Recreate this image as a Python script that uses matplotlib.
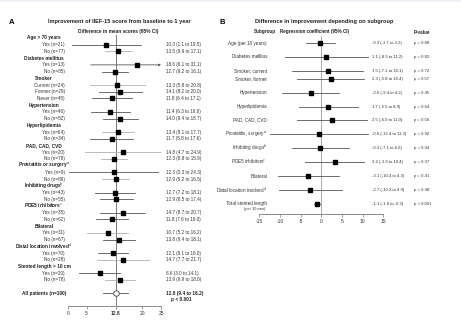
import matplotlib
matplotlib.use('Agg')
import matplotlib.pyplot as plt
from matplotlib.transforms import blended_transform_factory
from matplotlib.patches import Rectangle

plt.rcParams['font.family'] = ['Liberation Sans Narrow', 'Liberation Sans', 'DejaVu Sans']
plt.rcParams['axes.unicode_minus'] = False

# ---- panel A data ----
a_headers = ['Age > 70 years', 'Diabetes mellitus', 'Smoker', 'Hypertension', 'Hyperlipidemia',
             'PAD, CAD, CVD', 'Prostatitis or surgery$^{a}$', 'Inhibiting drugs$^{b}$',
             'PDE5 inhibitors$^{c}$', 'Bilateral', 'Distal location involved$^{d}$',
             'Stented length > 10 cm']
a_levels = [['Yes', 'No'], ['Yes', 'No'], ['Current', 'Former', 'Never'], ['Yes', 'No'],
            ['Yes', 'No'], ['Yes', 'No'], ['Yes', 'No'], ['Yes', 'No'], ['Yes', 'No'],
            ['Yes', 'No'], ['Yes', 'No'], ['Yes', 'No']]
a_n = [[21, 77], [13, 85], [24, 29, 45], [46, 52], [64, 34], [20, 78], [9, 89], [43, 55],
       [35, 62], [31, 67], [70, 28], [20, 78]]
a_est = [[10.3, 13.5], [18.6, 12.7], [13.3, 14.1, 11.8], [11.4, 14.0], [13.4, 11.7], [14.8, 12.3],
         [12.3, 12.9], [12.7, 12.9], [14.7, 11.8], [10.7, 13.8], [12.1, 14.7], [8.6, 13.9]]
a_lo = [[1.1, 9.9], [6.1, 9.2], [5.8, 8.2, 6.4], [6.3, 9.4], [9.1, 5.8], [4.7, 8.8],
        [0.3, 9.2], [7.2, 8.5], [8.7, 7.6], [5.2, 9.4], [8.1, 7.7], [3.0, 9.9]]
a_hi = [[19.5, 17.1], [31.1, 16.1], [20.8, 20.0, 17.1], [16.6, 18.7], [17.7, 17.6], [24.9, 15.9],
        [24.3, 16.5], [18.1, 17.4], [20.7, 16.0], [16.2, 18.1], [16.0, 21.7], [14.1, 18.0]]
all_n = 100
all_est, all_lo, all_hi = 12.8, 9.4, 16.2
all_p = 'p < 0.001'
a_ticks = [0, 5, 12.8, 20, 25]

# ---- panel B data ----
b_labels = ['Age (per 10 years)', 'Diabetes mellitus', 'Smoker, current', 'Smoker, former',
            'Hypertension', 'Hyperlipidemia', 'PAD, CAD, CVD', 'Prostatitis, surgery$^{a}$',
            'Inhibiting drugs$^{b}$', 'PDE5 inhibitors$^{c}$', 'Bilateral',
            'Distal location involved$^{d}$', 'Total stented length']
b_est = [-0.3, 1.1, 1.5, 2.3, -2.6, 1.7, 2.5, -0.6, -0.3, 3.2, -3.1, -2.7, -1.1]
b_lo = [-3.7, -8.9, -7.1, -5.8, -9.4, -5.5, -6.0, -12.4, -7.1, -3.9, -10.4, -10.2, -1.8]
b_hi = [3.2, 11.2, 10.1, 10.4, 4.2, 8.9, 11.0, 11.3, 6.6, 10.4, 4.3, 4.9, -0.3]
b_p = ['p = 0.88', 'p = 0.82', 'p = 0.72', 'p = 0.57', 'p = 0.45', 'p = 0.64', 'p = 0.56',
       'p = 0.92', 'p = 0.94', 'p = 0.37', 'p = 0.41', 'p = 0.48', 'p < 0.001']

# layout / style
a_shade = [['d', 'l'], ['d', 'd'], ['l', 'd', 'd'], ['d', 'd'], ['l', 'd'], ['l', 'l'],
           ['d', 'l'], ['d', 'd'], ['d', 'd'], ['l', 'd'], ['d', 'l'], ['d', 'l']]
shade = {'d': '#555555', 'l': '#b0b0b0'}
b_rows = [0, 1, 2, 2.57, 3.57, 4.57, 5.5, 6.5, 7.5, 8.5, 9.5, 10.5, 11.5]
txt = '#333333'
dark = '#222222'
fs_body = 3.3
fs_head = 3.4
fs_title = 4.1

W, H = 461, 327
fig = plt.figure(figsize=(W / 100, H / 100), dpi=100)
fig.patch.set_facecolor('white')


def fx(px):
    return px / W


def fy(py):
    return 1 - py / H


fig.add_artist(Rectangle((0, fy(2)), 1, 2 / H, transform=fig.transFigure,
                         color='#eeeef4', lw=0))

# ================= panel A =================
axA = fig.add_axes([fx(68), fy(306), fx(161) - fx(68), fy(35) - fy(306)])
axA.set_xlim(0, 25)
axA.set_ylim((306 - 38) / 6.72, (35 - 38) / 6.72)
trA = blended_transform_factory(fig.transFigure, axA.transData)
axA.axvline(12.8, color='#666666', lw=0.6, zorder=1)

r = 0
for g, head in enumerate(a_headers):
    fig.text(fx(44), r, head, transform=trA, ha='center', va='center',
             fontsize=fs_head, fontweight='bold', color=dark)
    r += 1
    for k, lev in enumerate(a_levels[g]):
        est, lo, hi = a_est[g][k], a_lo[g][k], a_hi[g][k]
        col = shade[a_shade[g][k]]
        if hi > 25:
            axA.annotate('', xy=(25, r), xytext=(lo, r),
                         arrowprops=dict(arrowstyle='-|>', color=col, lw=0.6,
                                         mutation_scale=3, shrinkA=0, shrinkB=0))
        else:
            axA.plot([lo, hi], [r, r], color=col, lw=0.6, zorder=2)
        axA.plot(est, r, 's', color='black', ms=2.6, zorder=3)
        fig.text(fx(65), r, f'{lev} (n={a_n[g][k]})', transform=trA, ha='right',
                 va='center', fontsize=fs_body, color=txt)
        fig.text(fx(166), r, f'{est:.1f} ({lo:.1f} to {hi:.1f})', transform=trA,
                 ha='left', va='center', fontsize=fs_body, color=txt)
        r += 1

r += 1
axA.plot([all_lo, all_hi], [r, r], color='#555555', lw=0.6, zorder=2)
axA.plot(all_est, r, 'o', mfc='white', mec='#555555', mew=0.7, ms=4, zorder=3)
fig.text(fx(66), r, f'All patients (n={all_n})', transform=trA, ha='right',
         va='center', fontsize=fs_head, fontweight='bold', color=dark)
fig.text(fx(166), r, f'{all_est:.1f} ({all_lo:.1f} to {all_hi:.1f})', transform=trA,
         ha='left', va='center', fontsize=fs_head, fontweight='bold', color=dark)
fig.text(fx(181), r + 0.85, all_p, transform=trA, ha='center', va='center',
         fontsize=fs_head, fontweight='bold', color=dark)

for s in ['top', 'left', 'right']:
    axA.spines[s].set_visible(False)
axA.spines['bottom'].set_color('#777777')
axA.spines['bottom'].set_linewidth(0.6)
axA.set_yticks([])
axA.set_xticks(a_ticks)
axA.set_xticklabels([f'{t:g}' for t in a_ticks])
axA.tick_params(axis='x', length=2, width=0.5, color='#777777', labelsize=3.6,
                labelcolor=txt, pad=1.5)
for lab in axA.get_xticklabels():
    if lab.get_text() == '12.8':
        lab.set_fontweight('bold')
axA.set_facecolor('none')

fig.text(fx(12), fy(22), 'A', ha='center', va='center', fontsize=5.5, fontweight='bold')
fig.text(fx(119), fy(22), 'Improvement of IIEF-15 score from baseline to 1 year',
         ha='center', va='center', fontsize=fs_title, fontweight='bold', color=dark)
fig.text(fx(118), fy(32), 'Difference in mean scores (95% CI)', ha='center', va='center',
         fontsize=fs_head, fontweight='bold', color=dark)

# ================= panel B =================
axB = fig.add_axes([fx(259.3), fy(214), fx(383.3) - fx(259.3), fy(36) - fy(214)])
axB.set_xlim(-15, 15)
axB.set_ylim((214 - 43) / 14, (36 - 43) / 14)
trB = blended_transform_factory(fig.transFigure, axB.transData)
axB.axvline(0, color='#999999', lw=0.6, zorder=1)

for i, lab in enumerate(b_labels):
    y = b_rows[i]
    axB.plot([b_lo[i], b_hi[i]], [y, y], color='#555555', lw=0.6, zorder=2)
    axB.plot(b_est[i], y, 's', color='black', ms=2.6, zorder=3)
    fig.text(fx(267), y, lab, transform=trB, ha='right', va='center',
             fontsize=fs_body, color=txt)
    fig.text(fx(372), y, f'{b_est[i]:.1f} ({b_lo[i]:.1f} to {b_hi[i]:.1f})',
             transform=trB, ha='left', va='center', fontsize=3.1, color=txt)
    fig.text(fx(414), y, b_p[i], transform=trB, ha='left', va='center',
             fontsize=3.1, color=txt)
fig.text(fx(265), b_rows[-1] + 0.38, '(per 10 mm)', transform=trB, ha='right',
         va='center', fontsize=2.8, color=txt)

for s in ['top', 'left', 'right']:
    axB.spines[s].set_visible(False)
axB.spines['bottom'].set_color('#777777')
axB.spines['bottom'].set_linewidth(0.6)
axB.set_yticks([])
axB.set_xticks(range(-15, 16, 5))
axB.tick_params(axis='x', length=2, width=0.5, color='#777777', labelsize=3.6,
                labelcolor=txt, pad=1.5)
axB.set_facecolor('none')

fig.text(fx(222), fy(22), 'B', ha='center', va='center', fontsize=5.5, fontweight='bold')
fig.text(fx(324), fy(22), 'Difference in improvement depending on subgroup',
         ha='center', va='center', fontsize=fs_title, fontweight='bold', color=dark)
fig.text(fx(265), fy(32), 'Subgroup', ha='center', va='center', fontsize=3.3,
         fontweight='bold', color=dark)
fig.text(fx(314), fy(32), 'Regression coefficient (95% CI)', ha='center', va='center',
         fontsize=3.3, fontweight='bold', color=dark)
fig.text(fx(414), fy(32), 'P-value', ha='left', va='center', fontsize=3.3,
         fontweight='bold', color=dark)

fig.savefig('out.png', dpi=100, facecolor='white')
